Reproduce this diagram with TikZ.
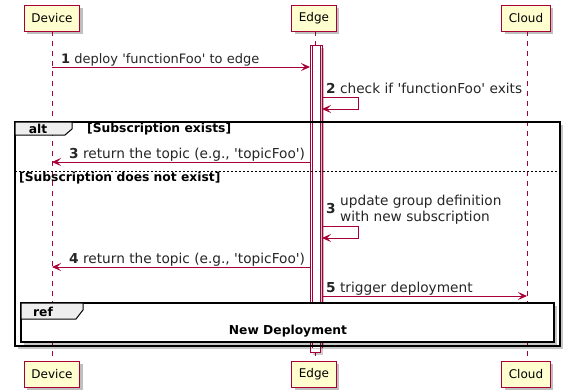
\documentclass[tikz,border=0pt]{standalone}
\usepackage{fontspec}
\setmainfont{DejaVu Sans}
\usetikzlibrary{arrows.meta,shadows}
\definecolor{pborder}{HTML}{A80036}
\definecolor{pfill}{HTML}{FEFECE}
\definecolor{tabfill}{HTML}{EEEEEE}
\newcommand{\sq}{\textquotesingle}
\begin{document}
\begin{tikzpicture}[x=1pt,y=-1pt,
  part/.style={draw=pborder, fill=pfill, line width=0.9pt, minimum height=26pt, inner xsep=7pt, inner ysep=0pt,
    font=\fontsize{12}{14}\selectfont, drop shadow={shadow xshift=3pt, shadow yshift=-3pt, opacity=0.25, fill=black}},
  life/.style={draw=pborder, line width=0.8pt, dash pattern=on 5pt off 5pt},
  bar/.style={draw=pborder, fill=white, line width=0.8pt},
  msg/.style={draw=pborder, line width=0.9pt, -{Stealth[length=9pt,width=8pt,inset=4pt]}},
  mlabel/.style={anchor=base west, inner sep=0pt, text=black!85, font=\fontsize{13.7}{16}\selectfont},
  guard/.style={inner sep=0pt, font=\bfseries\fontsize{12.3}{14}\selectfont},
  frame/.style={draw=black, line width=1.5pt},
  tab/.style={draw=black, fill=tabfill, line width=1pt},
  fshadow/.style={fill=black, opacity=0.22}
]
\useasboundingbox (0,0) rectangle (563,391);
% lifelines
\coordinate (devTopEnd) at (52,31);
\coordinate (devBotEnd) at (52,361);
\coordinate (edgeTopEnd) at (315,31);
\coordinate (edgeBotEnd) at (315,361);
\coordinate (cldTopEnd) at (527,31);
\coordinate (cldBotEnd) at (527,361);
\draw[life] (devTopEnd) -- (devBotEnd);
\draw[life] (edgeTopEnd) -- (edgeBotEnd);
\draw[life] (cldTopEnd) -- (cldBotEnd);
% participants
\node[part] (devT) at (52,18) {Device};
\node[part] (edgeT) at (314,18) {Edge};
\node[part] (cldT) at (526,18) {Cloud};
\node[part] (devB) at (52,374) {Device};
\node[part] (edgeB) at (314,374) {Edge};
\node[part] (cldB) at (526,374) {Cloud};
% activation bars
\fill[black,opacity=0.2] (313,48) rectangle (323,355);
\draw[bar] (310,45) rectangle (320,352);
\fill[black,opacity=0.25] (322,48) rectangle (324,340);
\draw[draw=pborder, line width=0.8pt] (312,45) rectangle (322,340);
% message 1
\coordinate (m1a) at (52,67);
\coordinate (m1b) at (310,67);
\draw[msg] (m1a) -- (m1b);
\node[mlabel, font=\fontsize{13}{16}\selectfont] (l1) at (61,63) {\textbf{1} deploy \sq functionFoo\sq{} to edge};
% message 2
\coordinate (m2a) at (322,97);
\coordinate (m2b) at (322,109);
\draw[msg] (m2a) -- (358,97) -- (358,109) -- (m2b);
\node[mlabel] (l2) at (326,93) {\textbf{2} check if \sq functionFoo\sq{} exits};
% alt frame
\fill[fshadow] (18,125) rectangle (563,349);
\fill[white] (15,122) rectangle (560,346);
\draw[life] (devTopEnd) -- (devBotEnd);
\draw[life] (cldTopEnd) -- (cldBotEnd);
\fill[black,opacity=0.2] (313,122) rectangle (323,346);
\draw[bar] (310,120) -- (310,348) (320,120) -- (320,348);
\fill[white] (310.5,120) rectangle (319.5,348);
\draw[draw=pborder, line width=0.8pt] (312,120) -- (312,348) (322,120) -- (322,348);
\fill[black,opacity=0.25] (322.5,122) rectangle (324,346);
\draw[frame] (15,122) rectangle (560,346);
\path[tab] (15,122) -- (72,122) -- (72,129) -- (65,135) -- (15,135) -- cycle;
\node[guard] (altL) at (38,128.5) {alt};
\node[guard, anchor=west] (g1) at (87,129) {[Subscription exists]};
% message 3
\coordinate (m3a) at (310,162);
\coordinate (m3b) at (52,162);
\draw[msg] (m3a) -- (m3b);
\node[mlabel] (l3) at (69,158) {\textbf{3} return the topic (e.g., \sq topicFoo\sq)};
% divider
\draw[black, line width=0.8pt, dash pattern=on 2pt off 2pt] (15,171) -- (560,171);
\node[guard, anchor=west] (g2) at (19,178.5) {[Subscription does not exist]};
% message 3 (self)
\coordinate (m3sa) at (322,226);
\coordinate (m3sb) at (322,238);
\draw[msg] (m3sa) -- (358,226) -- (358,238) -- (m3sb);
\node[mlabel, font=\bfseries\fontsize{13.7}{16}\selectfont] (l3n) at (326,213) {3};
\node[mlabel] (l3s1) at (340,205) {update group definition};
\node[mlabel] (l3s2) at (340,221) {with new subscription};
% message 4
\coordinate (m4a) at (310,267);
\coordinate (m4b) at (52,267);
\draw[msg] (m4a) -- (m4b);
\node[mlabel] (l4) at (69,263) {\textbf{4} return the topic (e.g., \sq topicFoo\sq)};
% message 5
\coordinate (m5a) at (322,296);
\coordinate (m5b) at (527,296);
\draw[msg] (m5a) -- (m5b);
\node[mlabel] (l5) at (326,292) {\textbf{5} trigger deployment};
% ref frame
\fill[fshadow] (24,306) rectangle (557,345);
\draw[frame, fill=white] (21,303) rectangle (554,342);
\path[tab] (21,303) -- (83,303) -- (83,310) -- (76,319) -- (21,319) -- cycle;
\node[guard] (refL) at (43,311.5) {ref};
\node[guard] (refT) at (288,331) {New Deployment};
\end{tikzpicture}
\end{document}
